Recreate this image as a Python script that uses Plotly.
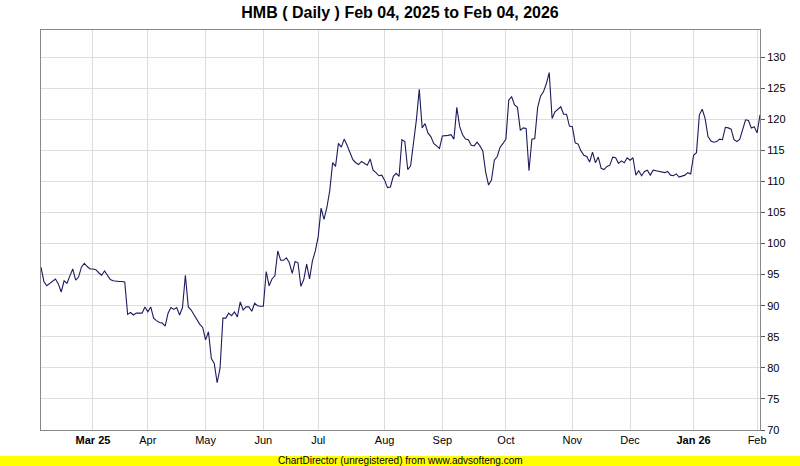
import plotly.graph_objects as go

# Daily closes (trading-day order), Feb 04 2025 -> Feb 04 2026
close = [
    96.2, 93.9, 93.2, 93.6, 94.0, 94.3, 93.5, 92.2, 94.0, 93.6,
    94.8, 95.9, 94.1, 94.6, 96.2, 96.8, 96.3, 95.9, 95.9, 95.8,
    95.3, 94.9, 95.6, 94.9, 94.2, 94.0, 93.9, 93.9, 93.9, 93.8,
    88.6, 88.9, 88.5, 88.8, 88.8, 88.8, 89.8, 89.0, 89.8, 88.0,
    87.6, 87.3, 87.2, 86.7, 88.8, 89.7, 89.4, 89.7, 88.5, 89.7,
    94.9, 89.8, 89.3, 88.5, 87.9, 87.0, 86.5, 84.5, 85.8, 81.5,
    80.7, 77.6, 79.9, 88.0, 88.0, 88.8, 88.4, 89.0, 88.2, 90.6,
    89.3, 89.8, 89.8, 89.1, 90.4, 90.0, 89.9, 89.9, 95.5, 93.2,
    94.3, 94.8, 98.8, 97.3, 97.3, 97.7, 96.9, 95.2, 97.1, 96.9,
    93.1, 94.2, 96.7, 94.3, 97.2, 98.8, 101.1, 105.7, 103.9, 105.8,
    108.5, 113.0, 112.4, 116.1, 115.5, 116.8, 115.8, 114.6, 113.5, 113.0,
    112.7, 113.2, 112.9, 112.6, 113.6, 111.8, 111.4, 110.9, 111.0, 110.2,
    109.0, 109.1, 110.8, 111.3, 110.8, 116.7, 116.4, 111.9, 112.5, 115.8,
    119.9, 124.8, 118.6, 119.3, 117.8, 117.2, 116.1, 115.7, 115.3, 117.3,
    117.3, 117.4, 117.5, 116.8, 121.9, 118.8, 117.5, 116.8, 116.7, 115.8,
    115.7, 116.3, 115.7, 114.9, 111.5, 109.4, 110.2, 113.4, 114.0, 115.5,
    116.1, 116.8, 123.1, 123.6, 122.3, 121.9, 118.2, 118.6, 118.5, 111.7,
    116.8, 116.9, 121.9, 123.7, 124.4, 125.7, 127.5, 120.1, 121.2, 121.6,
    122.0, 120.8, 120.8, 118.9, 118.8, 116.2, 116.0, 114.9, 114.2, 114.0,
    113.1, 114.7, 113.0, 113.9, 112.1, 111.9, 112.4, 112.6, 113.9, 113.8,
    112.9, 113.3, 113.0, 113.8, 113.4, 113.8, 111.0, 111.7, 110.9, 111.6,
    111.8, 111.0, 111.8, 111.7, 111.6, 111.5, 111.4, 111.6, 111.0, 110.9,
    111.2, 110.7, 110.9, 111.0, 111.4, 111.2, 114.2, 114.6, 120.7, 121.6,
    120.1, 117.2, 116.5, 116.3, 116.4, 116.8, 116.7, 118.7, 118.6, 118.4,
    116.7, 116.4, 116.8, 118.4, 119.9, 119.8, 118.6, 118.8, 117.8, 120.7,
]

# First trading day of each month (index into close) and its label
month_start_idx = [18, 37, 57, 77, 96, 119, 139, 161, 184, 204, 226, 248]
month_labels = ["<b>Mar 25</b>", "Apr", "May", "Jun", "Jul", "Aug", "Sep",
                "Oct", "Nov", "Dec", "<b>Jan 26</b>", "Feb"]

y_ticks = [70, 75, 80, 85, 90, 95, 100, 105, 110, 115, 120, 125, 130]

day_idx = list(range(len(close)))

FONT = "Liberation Sans, Arial, sans-serif"
W, H = 800, 466
L, R, T, B = 41, 40, 30, 36
pw, ph = W - L - R, H - T - B

fig = go.Figure()
fig.add_trace(go.Scatter(
    x=day_idx, y=close, mode="lines",
    line=dict(color="#1c1c5c", width=1.1),
    hoverinfo="y", showlegend=False,
))

fig.update_layout(
    width=W, height=H,
    margin=dict(l=L, r=R, t=T, b=B, pad=0),
    paper_bgcolor="white", plot_bgcolor="white",
    font=dict(family=FONT, size=11, color="#000000"),
    title=dict(
        text="<b>HMB ( Daily ) Feb 04, 2025 to Feb 04, 2026</b>",
        x=0.5, xanchor="center", y=1 - 12 / H, yanchor="middle",
        font=dict(family=FONT, size=16, color="#000000"),
    ),
    xaxis=dict(
        range=[0, len(close) - 1],
        tickvals=month_start_idx, ticktext=month_labels,
        showgrid=True, gridcolor="#dddddd", gridwidth=1,
        showline=True, linecolor="#888888", linewidth=1, mirror=True,
        ticks="", zeroline=False,
        tickfont=dict(family=FONT, size=11, color="#000000"),
    ),
    yaxis=dict(
        range=[70, 70 + 400 / 6.216],
        side="right",
        tickvals=y_ticks,
        showgrid=True, gridcolor="#dddddd", gridwidth=1,
        showline=True, linecolor="#888888", linewidth=1, mirror=True,
        ticks="outside", ticklen=4, tickcolor="#555555",
        zeroline=False,
        tickfont=dict(family=FONT, size=11, color="#000000"),
    ),
)

# Yellow footer band across the whole width
y_top = -(456 - (H - B)) / ph
y_bot = -(H - (H - B)) / ph
fig.add_shape(
    type="rect", xref="paper", yref="paper",
    x0=-L / pw, x1=(W - L) / pw, y0=y_bot, y1=y_top,
    fillcolor="#ffff00", line=dict(width=0), layer="below",
)
fig.add_annotation(
    text="ChartDirector (unregistered) from www.advsofteng.com",
    xref="paper", yref="paper",
    x=(W / 2 - L) / pw, y=(y_top + y_bot) / 2,
    xanchor="center", yanchor="middle", showarrow=False,
    font=dict(family=FONT, size=10, color="#000000"),
)

fig.write_html(
    "out.html",
    config={"displayModeBar": False},
    post_script="document.body.style.margin='0';document.body.style.padding='0';",
)
